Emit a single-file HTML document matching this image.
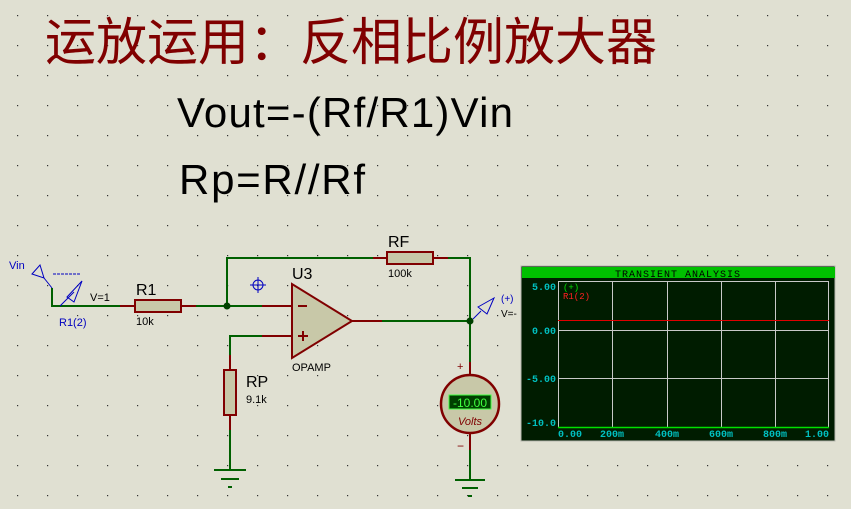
<!DOCTYPE html>
<html><head><meta charset="utf-8"><style>
html,body{margin:0;padding:0;background:#e0e0d2;}
svg{display:block}
svg text{font-family:"Liberation Sans",sans-serif;}
svg text.cjk{font-family:"Liberation Sans","Noto Sans CJK SC",sans-serif;}
svg text.mono,svg g.mono text{font-family:"Liberation Mono",monospace;}
</style></head><body>
<svg width="851" height="509" viewBox="0 0 851 509" xmlns="http://www.w3.org/2000/svg">
<defs>
<pattern id="dots" x="17" y="15" width="30" height="30" patternUnits="userSpaceOnUse">
<rect x="0" y="0" width="1.2" height="1.2" fill="#333"/>
</pattern>
</defs>
<rect width="851" height="509" fill="#e0e0d2"/>
<rect width="851" height="509" fill="url(#dots)"/>
<text class="cjk" x="45" y="60" font-size="51" fill="#800000">运放运用：反相比例放大器</text>
<text x="177" y="127" font-size="42" fill="#000" textLength="336">Vout=-(Rf/R1)Vin</text>
<text x="179" y="194" font-size="42" fill="#000" textLength="186">Rp=R//Rf</text>

<g fill="none" stroke-width="2">
<polyline points="52,288 52,306 120,306" stroke="#006000"/>
<line x1="120" y1="306" x2="135" y2="306" stroke="#800000"/>
<rect x="135" y="300" width="46" height="12" fill="#c8c8a8" stroke="#800000"/>
<line x1="181" y1="306" x2="196" y2="306" stroke="#800000"/>
<line x1="196" y1="306" x2="262" y2="306" stroke="#006000"/>
<line x1="262" y1="306" x2="292" y2="306" stroke="#800000"/>
<polyline points="227,306 227,258 373,258" stroke="#006000"/>
<line x1="373" y1="258" x2="387" y2="258" stroke="#800000"/>
<rect x="387" y="252" width="46" height="12" fill="#c8c8a8" stroke="#800000"/>
<line x1="433" y1="258" x2="448" y2="258" stroke="#800000"/>
<polyline points="448,258 470,258 470,362" stroke="#006000"/>
<polyline points="230,355 230,336 262,336" stroke="#006000"/>
<line x1="262" y1="336" x2="292" y2="336" stroke="#800000"/>
<line x1="230" y1="355" x2="230" y2="369" stroke="#800000"/>
<rect x="224" y="370" width="12" height="45" fill="#c8c8a8" stroke="#800000"/>
<line x1="230" y1="415" x2="230" y2="430" stroke="#800000"/>
<line x1="230" y1="430" x2="230" y2="470" stroke="#006000"/>
<line x1="214" y1="470" x2="246" y2="470" stroke="#006000"/>
<line x1="221" y1="479" x2="239" y2="479" stroke="#006000"/>
<line x1="228" y1="487" x2="232" y2="487" stroke="#006000"/>
<polygon points="292,284 292,358 352,321" fill="#c8c8a8" stroke="#800000"/>
<line x1="352" y1="321" x2="382" y2="321" stroke="#800000"/>
<line x1="382" y1="321" x2="470" y2="321" stroke="#006000"/>
<line x1="298" y1="306" x2="307" y2="306" stroke="#800000"/>
<line x1="298" y1="336" x2="308" y2="336" stroke="#800000"/>
<line x1="303" y1="331" x2="303" y2="341" stroke="#800000"/>
<line x1="470" y1="362" x2="470" y2="377" stroke="#800000"/>
<circle cx="470" cy="404" r="29" fill="#c8c8a8" stroke="#800000" stroke-width="2.5"/>
<line x1="470" y1="434" x2="470" y2="450" stroke="#800000"/>
<polyline points="470,450 470,480" stroke="#006000"/>
<line x1="455" y1="480" x2="485" y2="480" stroke="#006000"/>
<line x1="462" y1="488" x2="478" y2="488" stroke="#006000"/>
<line x1="468" y1="496" x2="472" y2="496" stroke="#006000"/>
</g>
<circle cx="227" cy="306" r="3.5" fill="#004000"/>
<circle cx="470" cy="321" r="3.5" fill="#004000"/>
<rect x="449" y="395" width="42" height="14" fill="#004000" stroke="#40ff40" stroke-width="1"/>
<text x="470" y="407" font-size="12" fill="#40ff40" text-anchor="middle">-10.00</text>
<text x="470" y="425" font-size="11" fill="#800000" font-style="italic" text-anchor="middle">Volts</text>
<text x="457" y="370" font-size="11" fill="#800000">+</text>
<text x="457" y="450" font-size="12" fill="#800000">−</text>

<text x="136" y="295" font-size="16" fill="#000">R1</text>
<text x="136" y="325" font-size="11" fill="#000">10k</text>
<text x="90" y="301" font-size="11" fill="#000">V=1</text>
<text x="388" y="247" font-size="16" fill="#000">RF</text>
<text x="388" y="277" font-size="11" fill="#000">100k</text>
<text x="292" y="279" font-size="16" fill="#000">U3</text>
<text x="292" y="371" font-size="11" fill="#000">OPAMP</text>
<text x="246" y="387" font-size="16" fill="#000">RP</text>
<text x="246" y="403" font-size="11" fill="#000">9.1k</text>

<g stroke="#0000c0" fill="none" stroke-width="1">
<polygon points="32,274 40,265 44,278"/>
<line x1="44" y1="278" x2="52" y2="288"/>
<line x1="53" y1="274" x2="81" y2="274" stroke-dasharray="3,1"/>
<line x1="60" y1="306" x2="74" y2="292"/>
<polygon points="67,297 82,281 74,302"/>
<line x1="473" y1="319" x2="481" y2="311"/>
<polygon points="478,307 494,298 487,314"/>
<circle cx="258" cy="285" r="5"/>
<line x1="250" y1="285" x2="266" y2="285"/>
<line x1="258" y1="277" x2="258" y2="293"/>
</g>
<text x="9" y="269" font-size="11" fill="#0000c0">Vin</text>
<text x="59" y="326" font-size="11" fill="#0000c0">R1(2)</text>
<text x="501" y="302" font-size="10" fill="#0000c0">(+)</text>
<text x="501" y="317" font-size="10" fill="#000">V=-</text>

<rect x="521" y="266" width="314" height="175" fill="#001c00" stroke="#b8b8b0" stroke-width="1"/>
<rect x="522" y="267" width="313" height="11" fill="#00c000"/>
<text class="mono" x="678" y="277" font-size="10" fill="#000" text-anchor="middle" letter-spacing="1">TRANSIENT ANALYSIS</text>
<g stroke="#c8c8c8" stroke-width="1" fill="none">
<rect x="558.5" y="281.5" width="270" height="146"/>
<line x1="612.5" y1="281" x2="612.5" y2="427"/>
<line x1="667.5" y1="281" x2="667.5" y2="427"/>
<line x1="721.5" y1="281" x2="721.5" y2="427"/>
<line x1="775.5" y1="281" x2="775.5" y2="427"/>
<line x1="558" y1="330.5" x2="829" y2="330.5"/>
<line x1="558" y1="378.5" x2="829" y2="378.5"/>
</g>
<line x1="558" y1="320.5" x2="829" y2="320.5" stroke="#e00000" stroke-width="1"/>
<line x1="558" y1="427.5" x2="829" y2="427.5" stroke="#00e000" stroke-width="1.5"/>
<g class="mono" font-size="10" fill="#00c0c0" font-weight="bold">
<text x="556" y="290" text-anchor="end">5.00</text>
<text x="556" y="334" text-anchor="end">0.00</text>
<text x="556" y="382" text-anchor="end">-5.00</text>
<text x="556" y="426" text-anchor="end">-10.0</text>
<text x="558" y="437">0.00</text>
<text x="612" y="437" text-anchor="middle">200m</text>
<text x="667" y="437" text-anchor="middle">400m</text>
<text x="721" y="437" text-anchor="middle">600m</text>
<text x="775" y="437" text-anchor="middle">800m</text>
<text x="829" y="437" text-anchor="end">1.00</text>
</g>
<text class="mono" x="563" y="290" font-size="9" fill="#00e000">(+)</text>
<text class="mono" x="563" y="299" font-size="9" fill="#ff2020">R1(2)</text>
</svg>
</body></html>
